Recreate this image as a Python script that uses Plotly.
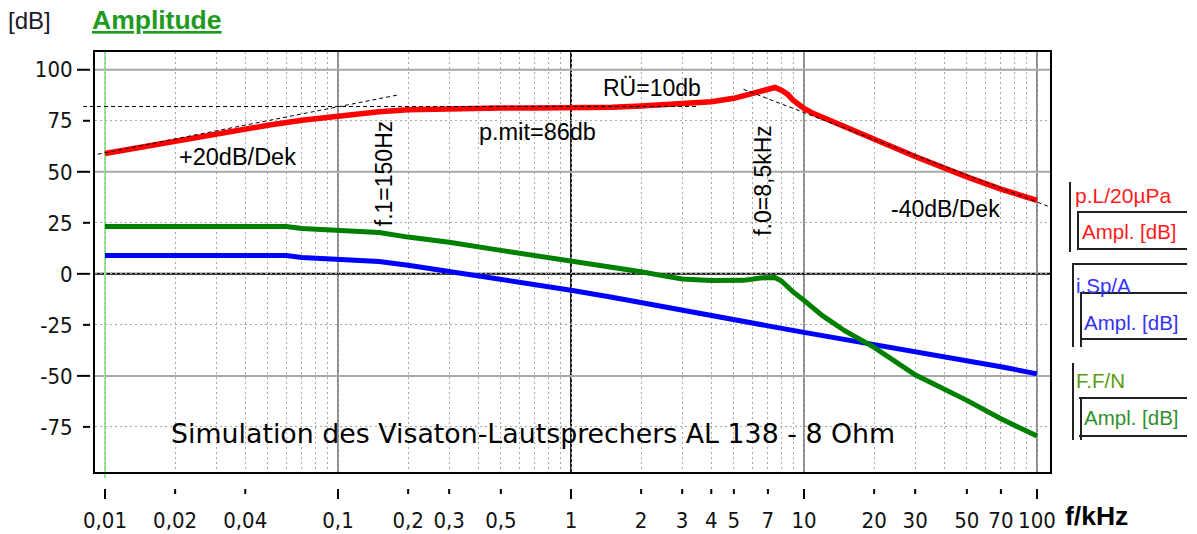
import math
import plotly.graph_objects as go

# ---------------- data ----------------
freq_pl = [0.01, 0.015, 0.02, 0.03, 0.04, 0.05, 0.07, 0.1, 0.13, 0.15, 0.2, 0.3, 0.5, 0.7, 1.0,
           1.5, 2.0, 3.0, 4.0, 5.0, 6.0, 7.0, 7.5, 8.0, 8.5, 9.0, 10.0, 11.0, 12.0, 15.0, 20.0,
           30.0, 50.0, 70.0, 100.0]
db_pl = [59.0, 62.5, 65.5, 68.8, 71.0, 72.8, 75.3, 77.4, 78.8, 79.4, 80.4, 81.0, 81.2, 81.3, 81.4,
         81.6, 82.3, 83.2, 84.3, 86.0, 88.5, 90.7, 91.3, 90.0, 88.0, 85.0, 81.0, 78.5, 76.7, 72.0, 65.5,
         57.5, 47.5, 41.5, 36.0]

freq_isp = [0.01, 0.06, 0.07, 0.1, 0.15, 0.2, 0.3, 0.5, 0.7, 1.0, 1.5, 2.0, 3.0, 5.0, 7.0, 10.0,
            20.0, 30.0, 50.0, 70.0, 100.0]
db_isp = [9.0, 9.0, 8.0, 7.0, 6.0, 4.2, 1.2, -3.0, -5.5, -8.0, -11.5, -14.0, -18.0, -22.5, -25.5,
          -28.7, -34.5, -38.2, -42.5, -45.5, -49.0]

freq_ff = [0.01, 0.06, 0.07, 0.1, 0.15, 0.2, 0.3, 0.5, 0.7, 1.0, 1.5, 2.0, 2.5, 3.0, 4.0, 5.5,
           6.5, 7.5, 8.0, 9.0, 10.0, 12.0, 15.0, 20.0, 30.0, 50.0, 70.0, 100.0]
db_ff = [23.2, 23.2, 22.2, 21.2, 20.2, 18.0, 15.5, 11.5, 9.0, 6.3, 3.5, 1.0, -1.0, -2.5, -3.3, -3.2,
         -2.0, -1.8, -3.5, -9.0, -13.0, -20.5, -28.0, -36.0, -49.5, -62.0, -71.0, -79.5]

# helper lines (asymptotes)
slope20_f = [0.0093, 0.18]
slope20_db = [58.6, 87.6]
flat_db = 82.0
flat_end_f = 3.5
slope40_f = [5.5, 114.0]
slope40_db = [90.4, 32.7]

x_tickvals = [0.01, 0.02, 0.04, 0.1, 0.2, 0.3, 0.5, 1, 2, 3, 4, 5, 7, 10, 20, 30, 50, 70, 100]
x_ticktext = ["0,01", "0,02", "0,04", "0,1", "0,2", "0,3", "0,5", "1", "2", "3", "4", "5", "7",
              "10", "20", "30", "50", "70", "100"]
x_decades = [0.01, 0.1, 1, 10, 100]
x_minor = [m * 10.0 ** e for e in range(-2, 2) for m in range(2, 10)]
y_tickvals = [100, 75, 50, 25, 0, -25, -50, -75]
y_ticktext = ["100", "75", "50", "25", "0", "-25", "-50", "-75"]
y_solid = [100, 50, -50]

# ---------------- layout geometry ----------------
W, H = 1197, 534
ML, MR, MT, MB = 95, 147, 52, 62
PW, PH = W - ML - MR, H - MT - MB
XR = [-2 - 10 / 233, 2 + 13 / 233]
YR = [-97.1, 108.7]


def px_x(px):
    return (px - ML) / PW


def px_y(py):
    return (H - MB - py) / PH


def fpaper(f):
    return (math.log10(f) - XR[0]) / (XR[1] - XR[0])


GRID = "#a8a8a8"
DOT = "2px,3px"
TICKFONT = dict(family="Liberation Sans Narrow, Arial Narrow, DejaVu Sans Condensed, sans-serif",
                size=22, color="#111111")
TXT = "Liberation Sans, Arial, sans-serif"

fig = go.Figure()
fig.add_trace(go.Scatter(x=freq_isp, y=db_isp, mode="lines", line=dict(color="#0000ff", width=5),
                         name="i.Sp/A"))
fig.add_trace(go.Scatter(x=freq_ff, y=db_ff, mode="lines", line=dict(color="#008000", width=5),
                         name="F.F/N"))
fig.add_trace(go.Scatter(x=freq_pl, y=db_pl, mode="lines", line=dict(color="#ff0000", width=5.5),
                         name="p.L/20µPa"))

shapes = []
# solid grid lines
for v in x_decades[1:]:
    shapes.append(dict(type="line", xref="x", yref="paper", x0=v, x1=v, y0=0, y1=1, layer="between",
                       line=dict(color="#202020" if v == 1 else "#8c8c8c", width=2)))
for v in y_solid:
    shapes.append(dict(type="line", xref="paper", yref="y", x0=0, x1=1, y0=v, y1=v, layer="between",
                       line=dict(color=GRID, width=2)))
shapes.append(dict(type="line", xref="paper", yref="y", x0=0, x1=1, y0=0, y1=0, layer="between",
                   line=dict(color="#000000", width=2)))
# light green marker line at 0.01 kHz
shapes.append(dict(type="line", xref="x", yref="paper", x0=x_decades[0], x1=x_decades[0], y0=-0.015, y1=1,
                   layer="between", line=dict(color="#90ee90", width=2)))
# asymptotes
shapes.append(dict(type="line", xref="x", yref="y", x0=slope20_f[0], x1=slope20_f[1], y0=slope20_db[0],
                   y1=slope20_db[1], layer="above", line=dict(color="black", width=1, dash="4px,3px")))
shapes.append(dict(type="line", xref="paper", yref="y", x0=px_x(83), x1=fpaper(flat_end_f), y0=flat_db,
                   y1=flat_db, layer="above", line=dict(color="black", width=1, dash="4px,3px")))
shapes.append(dict(type="line", xref="x", yref="y", x0=slope40_f[0], x1=slope40_f[1], y0=slope40_db[0],
                   y1=slope40_db[1], layer="above", line=dict(color="black", width=1, dash="4px,3px")))
# floating x tick marks
for v in x_tickvals:
    long = v in x_decades
    shapes.append(dict(type="line", xref="x", yref="paper", x0=v, x1=v, y0=px_y(489),
                       y1=px_y(499 if long else 494), line=dict(color="black", width=2)))
# floating y tick marks
for v in y_tickvals:
    long = v in y_solid or v == 0
    shapes.append(dict(type="line", xref="paper", yref="y", x0=px_x(77 if long else 83), x1=px_x(90),
                       y0=v, y1=v, line=dict(color="black", width=2)))

# right-hand channel boxes
LC = "#202020"


def seg(x0, y0, x1, y1):
    shapes.append(dict(type="line", xref="paper", yref="paper", x0=px_x(x0), x1=px_x(x1),
                       y0=px_y(y0), y1=px_y(y1), line=dict(color=LC, width=2)))


# box 1
seg(1070, 182, 1070, 252)
seg(1077, 212, 1187, 212)
seg(1078, 212, 1078, 250)
seg(1077, 249, 1187, 249)
# box 2
seg(1072, 264, 1187, 264)
seg(1073, 264, 1073, 347)
seg(1080, 293, 1187, 293)
seg(1081, 293, 1081, 347)
seg(1080, 339, 1187, 339)
# box 3
seg(1073, 363, 1073, 440)
seg(1079, 398, 1187, 398)
seg(1081, 398, 1081, 440)
seg(1079, 436, 1187, 436)

annotations = []


def ann(text, x, y, xref="x", yref="y", size=23, color="black", family=TXT, xanchor="left", angle=0):
    annotations.append(dict(text=text, x=x, y=y, xref=xref, yref=yref, showarrow=False,
                            xanchor=xanchor, yanchor="middle", textangle=angle, borderpad=0,
                            font=dict(family=family, size=size, color=color)))


ann("+20dB/Dek", math.log10(0.0206), 57.1, size=23.5)
ann("f.1=150Hz", math.log10(0.1576), 49.3, xanchor="center", angle=-90)
ann("p.mit=86db", math.log10(0.399), 69.4, size=23.5)
ann("RÜ=10db", math.log10(1.36), 91.0)
ann("f.0=8,5kHz", math.log10(6.67), 45.6, xanchor="center", angle=-90)
ann("-40dB/Dek", math.log10(23.4), 32.0)
ann("Simulation des Visaton-Lautsprechers AL 138 - 8 Ohm", math.log10(0.019), -78.4, size=26.8,
    family="DejaVu Sans, sans-serif")

# header and labels (paper coordinates)
ann("[dB]", px_x(7), px_y(20), xref="paper", yref="paper", size=24, color="#1a1a2a")
ann("<b><u>Amplitude</u></b>", px_x(91), px_y(20), xref="paper", yref="paper", size=26.5, color="#1e9a1e")
ann("<b>f/kHz</b>", px_x(1064), px_y(516), xref="paper", yref="paper", size=26.5, color="black")
ann("p.L/20µPa", px_x(1074), px_y(195), xref="paper", yref="paper", size=21, color="#ff1a1a")
ann("Ampl. [dB]", px_x(1081), px_y(231), xref="paper", yref="paper", size=20.5, color="#ff1a1a")
ann("i.Sp/A", px_x(1075), px_y(285), xref="paper", yref="paper", size=20.5, color="#3333ff")
ann("Ampl. [dB]", px_x(1083), px_y(322), xref="paper", yref="paper", size=20.5, color="#3333ee")
ann("F.F/N", px_x(1075), px_y(380), xref="paper", yref="paper", size=20.5, color="#5a9a10")
ann("Ampl. [dB]", px_x(1083), px_y(417), xref="paper", yref="paper", size=20.5, color="#2f8f2f")

fig.update_layout(
    width=W, height=H,
    margin=dict(l=ML, r=MR, t=MT, b=MB, pad=0, autoexpand=False),
    paper_bgcolor="white", plot_bgcolor="white",
    showlegend=False,
    shapes=shapes, annotations=annotations,
    xaxis=dict(type="log", range=XR, tickvals=x_tickvals, ticktext=x_ticktext, ticks="",
               tickfont=TICKFONT, ticklabelstandoff=28, automargin=False,
               showgrid=True, gridcolor=GRID, gridwidth=1, griddash=DOT,
               minor=dict(tickvals=x_minor, showgrid=True, gridcolor=GRID, gridwidth=1, griddash=DOT,
                          ticks=""),
               showline=True, linecolor="black", linewidth=2, mirror=True, zeroline=False),
    yaxis=dict(range=YR, tickvals=y_tickvals, ticktext=y_ticktext, ticks="", tickfont=TICKFONT,
               ticklabelstandoff=16, automargin=False,
               showgrid=True, gridcolor=GRID, gridwidth=1, griddash=DOT,
               showline=True, linecolor="black", linewidth=2, mirror=True, zeroline=False),
)

fig.write_html("out.html", config={"displayModeBar": False},
               post_script="document.body.style.margin='0px';document.body.style.overflow='hidden';")
